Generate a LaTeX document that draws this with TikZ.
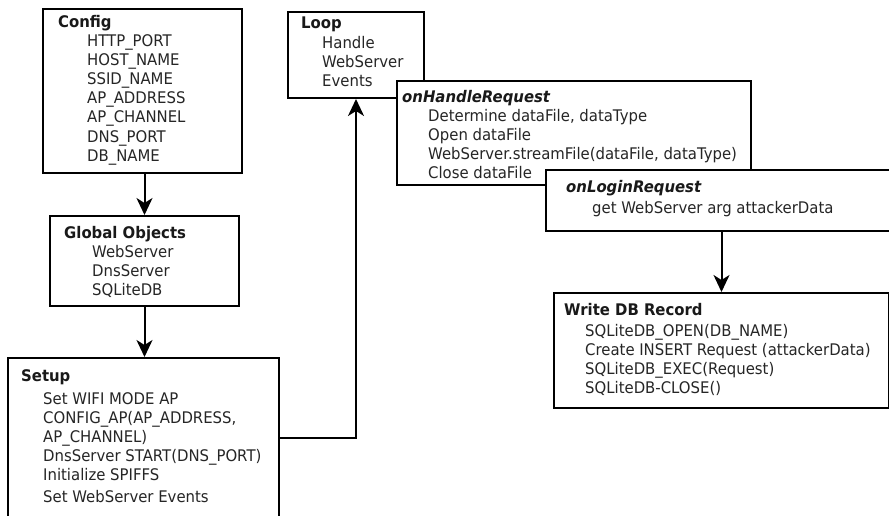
\documentclass[tikz,border=0pt]{standalone}
\usepackage{fontspec}
\setmainfont{DejaVu Sans}[FakeStretch=0.93]
\usetikzlibrary{arrows.meta}

\begin{document}
\begin{tikzpicture}[x=1pt,y=-1pt,
  box/.style={draw,line width=2pt,fill=white,anchor=north west,inner sep=0},
  head/.style={font=\fontsize{16}{18}\selectfont\bfseries,text=black!90,anchor=base west,inner sep=0},
  entry/.style={font=\fontsize{16}{18}\selectfont,text=black!85,anchor=base west,inner sep=0},
  arr/.style={line width=2pt,-{Stealth[length=17pt,width=16pt,inset=5pt]}}]
\clip (0,0) rectangle (889,515);

% Config
\node[box,minimum width=199pt,minimum height=164pt] (config) at (42,8) {};
\node[head] (config-t) at (58,27) {Config};
\foreach \t [count=\i] in {HTTP\_PORT,HOST\_NAME,SSID\_NAME,AP\_ADDRESS,AP\_CHANNEL,DNS\_PORT,DB\_NAME}
  \node[entry] (config-\i) at (87,{46+19.2*(\i-1)}) {\t};

% Global Objects
\node[box,minimum width=189pt,minimum height=90pt] (global) at (49,215) {};
\node[head] (global-t) at (64,238) {Global Objects};
\foreach \t [count=\i] in {WebServer,DnsServer,SQLiteDB}
  \node[entry] (global-\i) at (92,{257+19*(\i-1)}) {\t};

% Setup
\node[box,minimum width=271pt,minimum height=160pt] (setup) at (7,357) {};
\node[head] (setup-t) at (21,381) {Setup};
\foreach \y/\t [count=\i] in {404/Set WIFI MODE AP,423/{CONFIG\_AP(AP\_ADDRESS,},442/AP\_CHANNEL),
    461/DnsServer START(DNS\_PORT),480/Initialize SPIFFS,502/Set WebServer Events}
  \node[entry] (setup-\i) at (43,\y) {\t};

% Loop
\node[box,minimum width=136pt,minimum height=86pt] (loop) at (287,11) {};
\node[head] (loop-t) at (301,28) {Loop};
\foreach \t [count=\i] in {Handle,WebServer,Events}
  \node[entry] (loop-\i) at (322,{48+19*(\i-1)}) {\t};

% onHandleRequest
\node[box,minimum width=354pt,minimum height=104pt] (handle) at (396,80) {};
\node[head,font=\fontsize{16}{18}\selectfont\bfseries\itshape] (handle-t) at (402,102) {onHandleRequest};
\foreach \t [count=\i] in {{Determine dataFile, dataType},Open dataFile,
    {WebServer.streamFile(dataFile, dataType)},Close dataFile}
  \node[entry] (handle-\i) at (428,{121+19*(\i-1)}) {\t};

% onLoginRequest
\node[box,minimum width=350pt,minimum height=61pt] (login) at (545,169) {};
\node[head,font=\fontsize{16}{18}\selectfont\bfseries\itshape] (login-t) at (566,192) {onLoginRequest};
\node[entry] (login-1) at (592,213) {get WebServer arg attackerData};

% Write DB Record
\node[box,minimum width=335pt,minimum height=115pt] (record) at (553,292) {};
\node[head] (record-t) at (564,315) {Write DB Record};
\foreach \t [count=\i] in {SQLiteDB\_OPEN(DB\_NAME),Create INSERT Request (attackerData),
    SQLiteDB\_EXEC(Request),SQLiteDB-CLOSE()}
  \node[entry] (record-\i) at (585,{336+19*(\i-1)}) {\t};

\draw[arr] (config.south -| global) -- (global.north);
\draw[arr] (global.south) -- (global.south |- setup.north);
\draw[arr] (setup.east) -| (loop.south);
\draw[arr] (login.south -| record) -- (record.north);

\end{tikzpicture}
\end{document}
